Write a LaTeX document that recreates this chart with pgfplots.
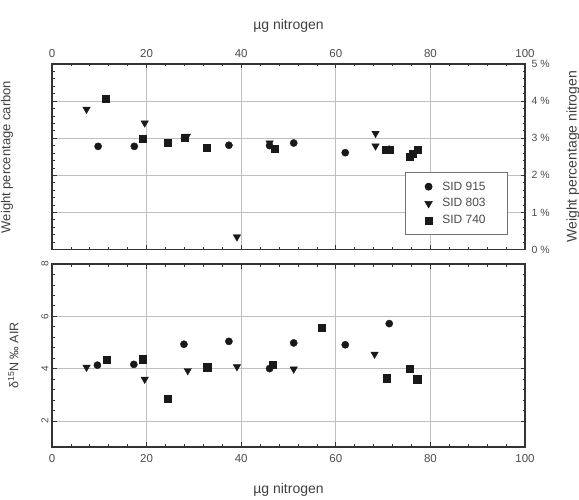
\documentclass[border=0pt]{standalone}
\usepackage{pgfplots}
\pgfplotsset{compat=1.18}
\usepackage{fontspec}
\setmainfont{Liberation Sans}

\pgfplotstableread{
x y
9.75 2.78
17.4 2.78
28.0 3.00
37.4 2.81
46.0 2.80
51.1 2.87
62.0 2.61
71.3 2.70
}\topA
\pgfplotstableread{
x y
7.3 3.78
19.6 3.41
28.5 3.05
39.1 0.34
46.0 2.87
68.4 3.13
68.4 2.79
}\topB
\pgfplotstableread{
x y
11.4 4.07
19.1 2.99
24.4 2.88
28.1 3.02
32.7 2.75
47.0 2.72
70.6 2.69
71.4 2.69
75.6 2.50
76.3 2.58
77.3 2.68
}\topC
\pgfplotstableread{
x y
9.6 4.13
17.3 4.16
27.9 4.93
37.4 5.04
46.0 4.00
51.1 4.98
62.0 4.91
71.3 5.72
}\botA
\pgfplotstableread{
x y
7.3 4.05
19.6 3.59
28.7 3.92
39.1 4.07
51.1 3.98
68.2 4.55
}\botB
\pgfplotstableread{
x y
11.5 4.34
19.1 4.36
24.4 2.86
32.8 4.05
46.7 4.15
57.1 5.57
70.7 3.63
75.6 4.00
77.2 3.59
}\botC

\begin{document}
\begin{tikzpicture}
\useasboundingbox (0pt,0pt) rectangle (579pt,500pt);
\pgfplotsset{
  common/.style={
    scale only axis, width=473pt,
    xmin=0, xmax=100, xtick={0,20,...,100}, minor x tick num=4,
    grid=major, major grid style={black!25, line width=0.7pt},
    axis line style={black!80, line width=1.1pt},
    tick style={black!80, line width=0.7pt},
    major tick length=4.5pt, minor tick length=2.5pt,
    tick align=inside,
    xtick pos=both, ytick pos=both,
    /pgf/number format/assume math mode=true,
    ticklabel style={font=\fontsize{11.5}{13}\selectfont, text=black!70},
    label style={font=\fontsize{14}{16}\selectfont, text=black!75},
  },
  mA/.style={only marks, mark=*, mark size=3.6pt, color=black!90},
  mB/.style={only marks, mark=triangle*, mark size=4.3pt, color=black!90, mark options={rotate=180}},
  mC/.style={only marks, mark=square*, mark size=3.6pt, color=black!90},
}
\begin{axis}[common,
  at={(52pt,250.5pt)}, anchor=south west, height=185.5pt,
  ymin=0, ymax=5, ytick={0,...,5}, minor y tick num=4,
  xticklabel pos=right, yticklabel pos=right,
  yticklabel={\pgfmathprintnumber{\tick}\ \%},
  yticklabel style={xshift=3pt, font=\fontsize{10.5}{12}\selectfont},
  xticklabel style={yshift=3pt},
  xlabel={µg nitrogen}, ylabel={Weight percentage nitrogen},
  xlabel shift=10pt, ylabel shift=10pt,
  legend style={at={(0.964,0.08)}, anchor=south east, draw=black!55, line width=0.6pt,
    font=\fontsize{12}{14}\selectfont, text=black!70, inner xsep=20pt, inner ysep=7pt,
    row sep=3pt, /tikz/every odd column/.append style={column sep=8pt}},
  legend cell align=left,
]
\addplot[mA] table {\topA};
\addlegendentry{SID 915}
\addplot[mB] table {\topB};
\addlegendentry{SID 803}
\addplot[mC] table {\topC};
\addlegendentry{SID 740}
\end{axis}
\node[rotate=90, font=\fontsize{13}{15}\selectfont, text=black!75] at (7pt,343pt) {Weight percentage carbon};
\begin{axis}[common,
  at={(52pt,53pt)}, anchor=south west, height=183pt,
  ymin=1, ymax=8, ytick={2,4,6,8}, minor y tick num=4,
  xticklabel pos=left, yticklabel pos=left,
  yticklabel style={rotate=90, anchor=south, font=\fontsize{10}{12}\selectfont},
  xticklabel style={yshift=-4pt},
  xlabel={µg nitrogen}, ylabel={δ\textsuperscript{15}N ‰ AIR},
  xlabel shift=14pt, ylabel shift=16pt,
  ylabel style={font=\fontsize{12.5}{14}\selectfont},
]
\addplot[mA] table {\botA};
\addplot[mB] table {\botB};
\addplot[mC] table {\botC};
\end{axis}
\end{tikzpicture}
\end{document}
